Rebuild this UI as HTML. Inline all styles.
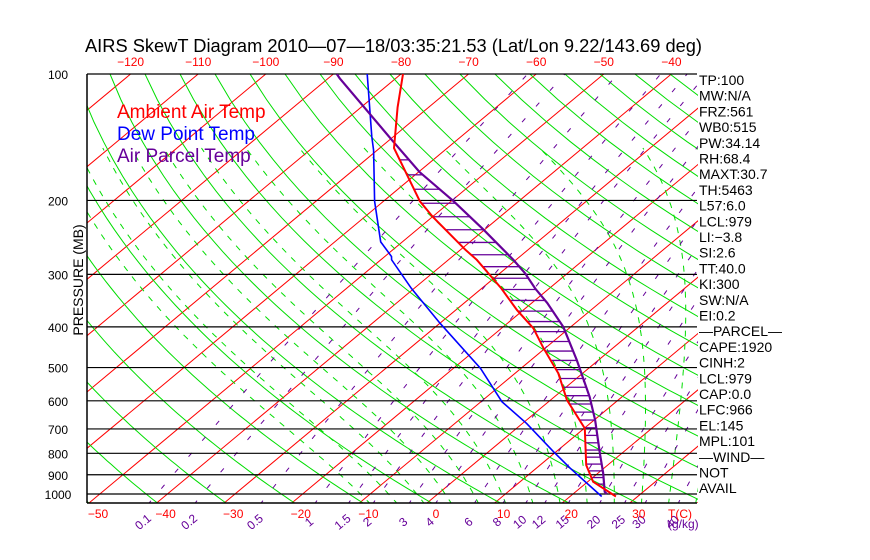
<!DOCTYPE html>
<html><head><meta charset="utf-8">
<style>
html,body{margin:0;padding:0;background:#fff;}
svg{display:block;font-family:"Liberation Sans",sans-serif;}
</style></head>
<body>
<svg id="chart" width="870" height="560" viewBox="0 0 870 560" xmlns="http://www.w3.org/2000/svg">
<defs><clipPath id="plotclip"><rect x="87" y="74" width="611" height="429"/></clipPath></defs>
<rect x="0" y="0" width="870" height="560" fill="#fff"/>
<text x="85" y="52" font-size="18" textLength="617" lengthAdjust="spacingAndGlyphs" fill="#000">AIRS SkewT Diagram 2010—07—18/03:35:21.53 (Lat/Lon 9.22/143.69 deg)</text>
<g id="bg" clip-path="url(#plotclip)"></g>
<g id="grid"></g>
<g id="series" clip-path="url(#plotclip)"></g>
<g id="axes"></g>
<text x="117" y="118" font-size="19" fill="#ff0000">Ambient Air Temp</text>
<text x="117" y="140" font-size="19" fill="#0000ff">Dew Point Temp</text>
<text x="117" y="162" font-size="19" fill="#660099">Air Parcel Temp</text>
<text transform="translate(83,280) rotate(-90)" text-anchor="middle" font-size="14" fill="#000">PRESSURE (MB)</text>
<g id="stats" font-size="14" fill="#000"></g>
</svg>
<script>
// ---- data ----
const envP = [100, 120, 150, 201, 219, 262, 277, 324, 365, 403, 450, 516, 597, 698, 853, 935, 1014];
const envT = [-79.7, -74.6, -67.9, -54.6, -49.9, -39.3, -35.8, -27.1, -20.9, -15.3, -10.2, -3.6, 2.4, 10.1, 16.8, 20.8, 26.8];
const dewP = [100, 141, 152, 201, 251, 272, 277, 324, 392, 502, 603, 679, 793, 868, 1014];
const dewT = [-85, -73.2, -70.5, -61.3, -53.2, -49, -48.4, -40.4, -30, -16, -6.9, 0.6, 9.6, 15, 24.7];
const parP = [100, 102.4, 145, 171, 201, 235, 277, 298, 324, 351, 400, 480, 587, 666, 801, 893, 988, 1000];
const parT = [-89.5, -88.3, -69.1, -59.9, -49.6, -40.1, -30.4, -26.3, -22.1, -17.7, -11.1, -3.2, 5.2, 10.1, 16.8, 20.8, 24.3, 25.0];
const hatchP = [160.1,173.8,188.1,203.1,218.7,234.9,251.8,269.4,287.6,306.4,325.9,346.1,367.0,388.5,410.6,433.4,456.8,480.9,505.6,530.9,556.9,583.4,610.6,638.4,666.7,695.7,725.2,755.3,785.9,817.1,848.8,881.0,913.8,947.2,981.0];
const pLevels = [100,200,300,400,500,600,700,800,900,1000];
const topT = [-120,-110,-100,-90,-80,-70,-60,-50,-40];
const botT = [-50,-40,-30,-20,-10,0,10,20,30];
const mixW = [0.1,0.2,0.5,1,1.5,2,3,4,6,8,10,12,15,20,25,30,40];
const mixLabels = ["0.1","0.2","0.5","1","1.5","2","3","4","6","8","10","12","15","20","25","30","40"];
const statLabels = ["TP:100","MW:N/A","FRZ:561","WB0:515","PW:34.14","RH:68.4","MAXT:30.7","TH:5463","L57:6.0","LCL:979","LI:\u22123.8","SI:2.6","TT:40.0","KI:300","SW:N/A","EI:0.2","\u2014PARCEL\u2014","CAPE:1920","CINH:2","LCL:979","CAP:0.0","LFC:966","EL:145","MPL:101","\u2014WIND\u2014"," NOT","AVAIL"];

// ---- axes functions ----
const NS = "http://www.w3.org/2000/svg";
const Y0 = 74, KY = 182.4, YB = 503, X0 = 427, KX = 6.76, SK = 1.2;
function yOf(p){ return Y0 + KY*Math.log(p/100); }
function xOf(T, y){ return X0 + KX*T + SK*(YB - y); }
function mk(tag, attrs, parent){ const e=document.createElementNS(NS,tag); for(const k in attrs) e.setAttribute(k,attrs[k]); parent.appendChild(e); return e; }
function ptsPT(P, T){ return P.map((p,i)=>{const y=yOf(p); return xOf(T[i],y).toFixed(1)+","+y.toFixed(1);}).join(" "); }
function interp(P, T, p){
  const lp=Math.log(p);
  for(let i=0;i<P.length-1;i++){ const a=Math.log(P[i]), b=Math.log(P[i+1]); if(lp>=a&&lp<=b){ return T[i]+(T[i+1]-T[i])*(lp-a)/(b-a);} }
  return null;
}
const bg=document.getElementById('bg'), grid=document.getElementById('grid'), series=document.getElementById('series'), axes=document.getElementById('axes'), stats=document.getElementById('stats');

// isotherms
for(let T=-160;T<=50;T+=10){
  const l=mk('line',{x1:xOf(T,YB),y1:YB,x2:xOf(T,Y0),y2:Y0,stroke:'#ff0000','stroke-width':1},bg);
  
  
}
// dry adiabats
for(let th=200;th<=520;th+=10){
  const pts=[]; for(let p=1060;p>=95;p-=15){ const y=yOf(p); const T=th*Math.pow(p/1000,0.286)-273.15; pts.push(xOf(T,y).toFixed(1)+","+y.toFixed(1)); }
  const l=mk('polyline',{points:pts.join(" "),fill:'none',stroke:'#00dd00','stroke-width':1},bg);
  
  
}
// moist adiabats
function es(T){ return 6.112*Math.exp(17.67*T/(T+243.5)); }
for(let T0=-8;T0<=40;T0+=4){
  const pts=[]; let T=T0+273.15;
  for(let p=1060;p>=150;p-=5){
    const y=yOf(p); pts.push(xOf(T-273.15,y).toFixed(1)+","+y.toFixed(1));
    const e=es(T-273.15), rs=0.622*e/(p-e);
    const dTdp=(287*T+2.5e6*rs)/(p*(1004+2.5e6*2.5e6*rs*0.622/(287*T*T)));
    T-=dTdp*5;
  }
  const l=mk('polyline',{points:pts.join(" "),fill:'none',stroke:'#00dd00','stroke-width':1,'stroke-dasharray':'6 7'},bg);
  
  
}
// mixing ratio lines
function tOfW(w,p){ const e=w*1e-3*p/(0.622+w*1e-3); const a=Math.log(e/6.112); return 243.5*a/(17.67-a); }
mixW.forEach((w,i)=>{
  const pts=[]; for(let p=1060;p>=95;p-=10){ const y=yOf(p); pts.push(xOf(tOfW(w,p),y).toFixed(1)+","+y.toFixed(1)); }
  const l=mk('polyline',{points:pts.join(" "),fill:'none',stroke:'#660099','stroke-width':1,'stroke-dasharray':'5 16'},bg);
  
  
  const x=xOf(tOfW(w,1050),YB)-6;
  const t=mk('text',{x:x,y:526,'font-size':12,fill:'#660099','text-anchor':'middle',transform:`rotate(-40 ${x} 522)`},axes);
  t.textContent=mixLabels[i];
  
  
});
// pressure lines + labels
pLevels.forEach(p=>{
  const y=yOf(p);
  const l=mk('line',{x1:87,y1:y,x2:697,y2:y,stroke:'#000','stroke-width':1.2},grid);
  
  
  const t=mk('text',{x:58,y:y+5,'font-size':12,'text-anchor':'middle',fill:'#000'},axes);
  t.textContent=p;
  
  
});
mk('line',{x1:87,y1:Y0,x2:87,y2:YB,stroke:'#000','stroke-width':1.5},axes);
mk('line',{x1:87,y1:YB,x2:697,y2:YB,stroke:'#000','stroke-width':1.5},axes);
topT.forEach(T=>{
  const t=mk('text',{x:xOf(T,Y0),y:66,'font-size':12,'text-anchor':'middle',fill:'#ff0000'},axes);
  t.textContent=String(T).replace('-','\u2212');
  
  
});
botT.forEach(T=>{
  const t=mk('text',{x:xOf(T,YB)+9,y:518,'font-size':12,'text-anchor':'middle',fill:'#ff0000'},axes);
  t.textContent=String(T).replace('-','\u2212');
  
  
});
{const t=mk('text',{x:680,y:518,'font-size':12,'text-anchor':'middle',fill:'#ff0000'},axes); t.textContent='T(C)';

}
{const t=mk('text',{x:668,y:528,'font-size':12,fill:'#660099'},axes); t.textContent='(g/kg)';

}

// hatching (CAPE)
hatchP.forEach(p=>{
  const te=interp(envP,envT,p), tp=interp(parP,parT,p);
  if(te===null||tp===null||tp<=te) return;
  const y=yOf(p);
  const l=mk('line',{x1:xOf(te,y),y1:y,x2:xOf(tp,y),y2:y,stroke:'#660099','stroke-width':1.3},series);
  
  
});
// series lines
{const l=mk('polyline',{points:ptsPT(dewP,dewT),fill:'none',stroke:'#0000ff','stroke-width':1.6},series);

}
{const l=mk('polyline',{points:ptsPT(parP,parT),fill:'none',stroke:'#660099','stroke-width':2.2},series);

}
{const l=mk('polyline',{points:ptsPT(envP,envT),fill:'none',stroke:'#ff0000','stroke-width':2},series);

}

// stats column
statLabels.forEach((s,i)=>{
  const t=mk('text',{x:699,y:85+i*15.7},stats);
  t.textContent=s;
  
  
});
</script>
</body></html>
